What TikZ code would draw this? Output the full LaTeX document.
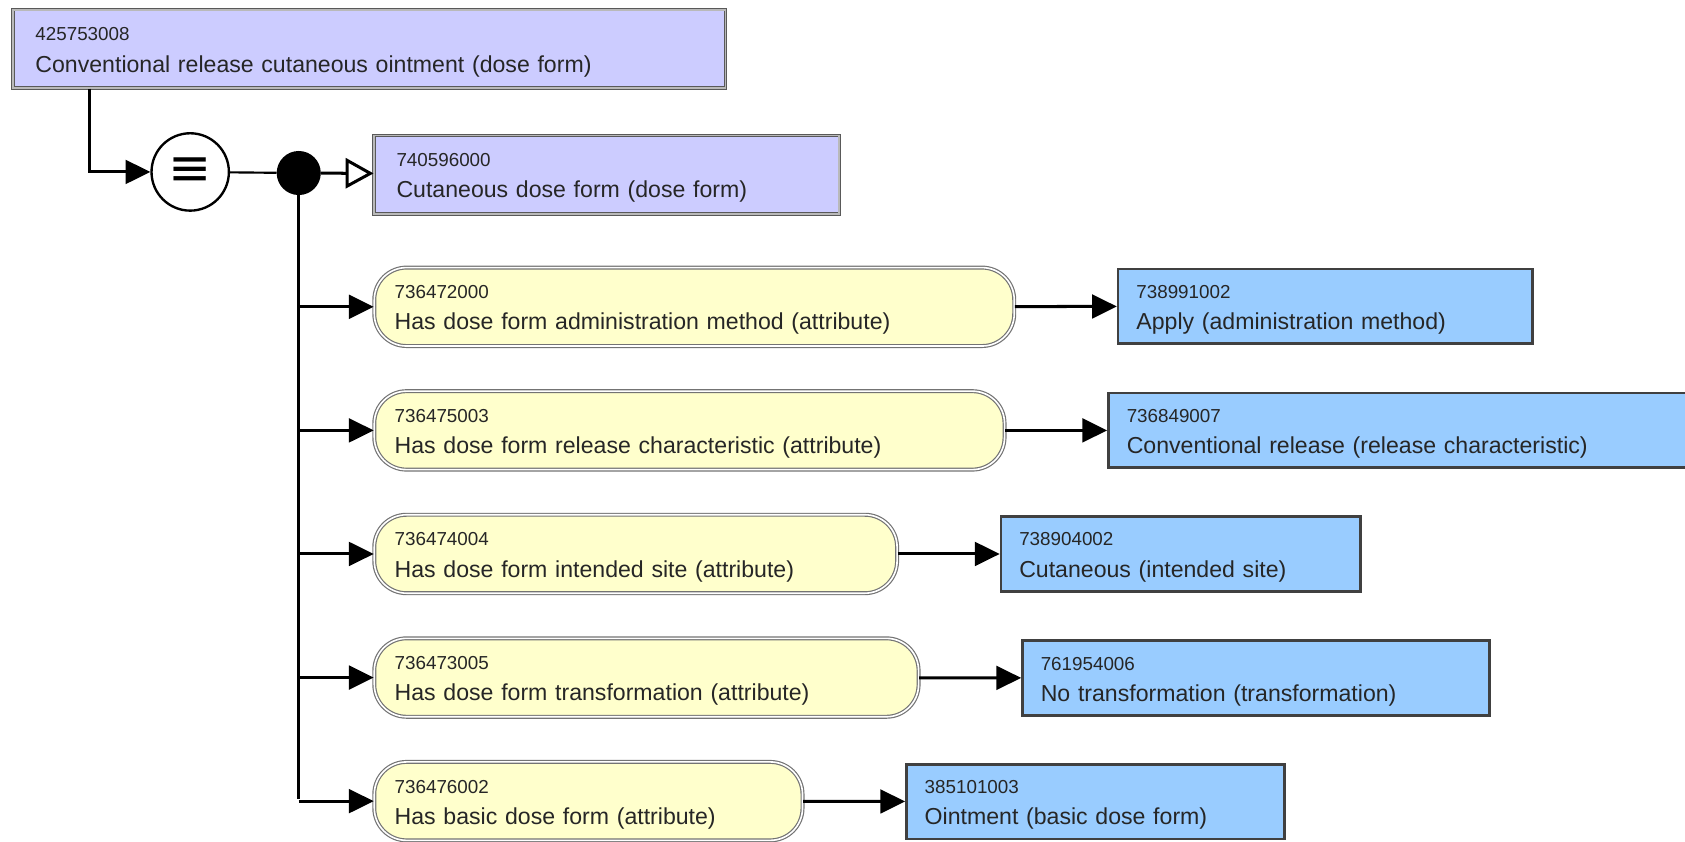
\documentclass[tikz,border=0pt]{standalone}
\usepackage{fontspec}
\setmainfont{Liberation Sans}
\newfontfamily\symfont{DejaVu Sans}
\usetikzlibrary{arrows.meta}

\definecolor{conceptlilac}{HTML}{CCCCFF}
\definecolor{attryellow}{HTML}{FFFFCC}
\definecolor{valueblue}{HTML}{99CCFF}

\newcommand{\sctid}[1]{{\fontsize{17.5}{29}\selectfont\rule{0pt}{18.5pt}#1}}

\begin{document}
\begin{tikzpicture}[x=1pt, y=-1pt]
    % Define styles
    \tikzset{
        conceptbox/.style={draw=gray!70!black, double=gray!55, line width=0.8pt, double distance=1.6pt, fill=conceptlilac, anchor=west, inner xsep=21pt, minimum height=73pt, align=left, text=black!85, font=\fontsize{21.5}{29}\selectfont},
        attrpill/.style={draw=black!55, double=white, line width=1.1pt, double distance=1.5pt, fill=attryellow, rounded corners=30pt, anchor=west, inner xsep=19pt, minimum height=73pt, align=left, text=black!85, font=\fontsize{21.5}{29}\selectfont},
        valuebox/.style={draw=black!75, line width=2.5pt, fill=valueblue, anchor=west, inner xsep=17pt, minimum height=69.5pt, align=left, text=black!85, font=\fontsize{21.5}{29}\selectfont},
        defcircle/.style={circle, draw, line width=2.2pt, fill=white, minimum size=72pt, inner sep=0pt, font=\symfont\fontsize{48}{48}\selectfont},
        groupdot/.style={circle, fill=black, minimum size=41pt, inner sep=0pt},
        thickarrow/.style={-{Triangle[length=23pt, width=22pt]}, line width=2.8pt},
        isaarrow/.style={-{Triangle[open, length=26pt, width=28pt, fill=white]}, line width=2.8pt}
    }
    \clip (0,0) rectangle (1568,782.6);

    % Defined concept and its parent
    \node[conceptbox, text width=621pt] (top) at (11.6,45.5) {\sctid{425753008}\\Conventional release cutaneous ointment (dose form)};
    \node[conceptbox, text width=391pt] (form) at (347.6,162.5) {\sctid{740596000}\\Cutaneous dose form (dose form)};

    % Definition status and group
    \node[defcircle] (eq) at (177,160) {≡};
    \node[groupdot] (dot) at (278,161) {};

    % Attributes
    \node[attrpill, text width=557.5pt] (attr1) at (347.75,285.5) {\sctid{736472000}\\Has dose form administration method (attribute)};
    \node[attrpill, text width=548.5pt] (attr2) at (347.75,400.5) {\sctid{736475003}\\Has dose form release characteristic (attribute)};
    \node[attrpill, text width=448.5pt] (attr3) at (347.75,515.5) {\sctid{736474004}\\Has dose form intended site (attribute)};
    \node[attrpill, text width=468.5pt] (attr4) at (347.75,630.5) {\sctid{736473005}\\Has dose form transformation (attribute)};
    \node[attrpill, text width=360.5pt] (attr5) at (347.75,745.5) {\sctid{736476002}\\Has basic dose form (attribute)};

    % Values
    \node[valuebox, text width=351.5pt] (val1) at (1039.25,285) {\sctid{738991002}\\Apply (administration method)};
    \node[valuebox, text width=646pt] (val2) at (1030.25,400.5) {\sctid{736849007}\\Conventional release (release characteristic)};
    \node[valuebox, text width=300.5pt] (val3) at (930.25,515.5) {\sctid{738904002}\\Cutaneous (intended site)};
    \node[valuebox, text width=400.5pt] (val4) at (950.25,631) {\sctid{761954006}\\No transformation (transformation)};
    \node[valuebox, text width=317.5pt] (val5) at (842.25,746) {\sctid{385101003}\\Ointment (basic dose form)};

    % Connectors
    \coordinate (topexit) at ([xshift=71.4pt]top.south west);
    \draw[thickarrow] (topexit) |- (eq);
    \draw[line width=2pt] (eq) -- (dot);
    \draw[isaarrow] (dot) -- (form);
    \draw[line width=3.2pt] (dot) -- ([yshift=1.6pt]dot |- attr5.west);
    \foreach \i in {1,...,5} {
        \draw[thickarrow] (dot |- attr\i.west) -- (attr\i);
        \draw[thickarrow] (attr\i) -- (val\i);
    }
\end{tikzpicture}
\end{document}
